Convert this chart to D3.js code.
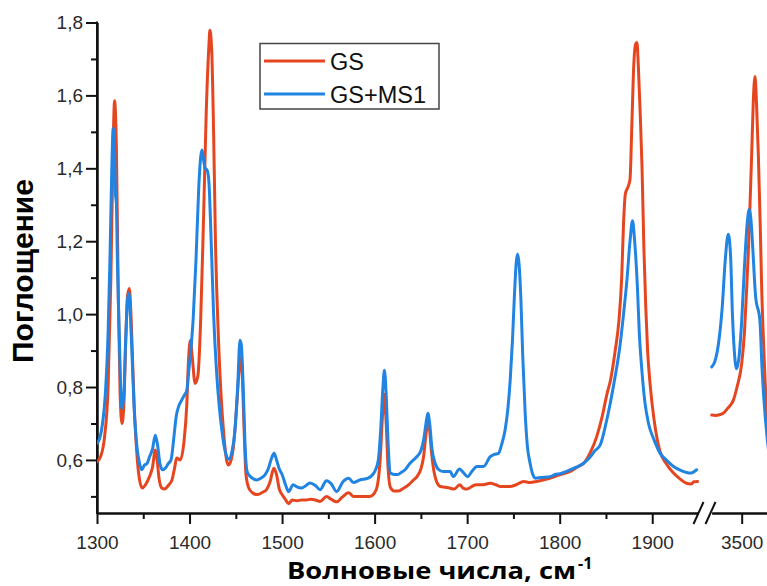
<!DOCTYPE html>
<html>
<head>
<meta charset="utf-8">
<script src="https://cdn.jsdelivr.net/npm/d3@7"></script>
<style>
  html, body { margin: 0; padding: 0; background: #ffffff; }
  svg { display: block; }
</style>
</head>
<body>
<svg id="chart" width="767" height="586"></svg>
<script>
// ---- Spectra: low-wavenumber window (1300–1950 cm-1) ----
const gsWave = [1300,1304,1308,1312,1315,1317,1319,1321,1323,1325,1327,1329,1331,1333,1335,1337,1340,1343,1346,1349,1352,1356,1360,1363,1365,1367,1370,1373,1377,1381,1384,1386,1390,1394,1397,1399,1401,1403,1406,1409,1412,1415,1418,1421,1422,1424,1426,1428,1431,1434,1437,1440,1442,1445,1448,1451,1454,1455.5,1457,1459,1461,1464,1468,1473,1478,1483,1487,1491,1494,1497,1500,1504,1507,1511,1516,1521,1526,1531,1536,1541,1548,1553,1559,1565,1572,1577,1585,1595,1600,1603,1606,1608.5,1610.5,1612.5,1614.5,1617,1621,1626,1631,1637,1642,1646,1650,1653,1655.5,1657.5,1659.5,1661.5,1664,1667,1671,1676,1681,1686,1692,1696,1700,1705,1710,1717,1725,1731,1736,1746,1753,1761,1768,1775,1782,1790,1800,1811,1820,1826,1833,1840,1846,1851,1855,1860,1864,1867,1869,1871,1874,1876,1878,1880,1882,1883.5,1885,1887,1889,1891,1893,1895,1898,1902,1908,1915,1923,1930,1937,1942,1945,1949];
const gsAbs = [0.595,0.61,0.66,0.80,1.10,1.40,1.585,1.45,1.05,0.78,0.70,0.75,0.92,1.05,1.07,0.98,0.76,0.62,0.545,0.523,0.53,0.55,0.58,0.627,0.60,0.55,0.523,0.52,0.53,0.545,0.58,0.605,0.60,0.65,0.75,0.88,0.928,0.88,0.81,0.83,0.98,1.25,1.55,1.74,1.779,1.72,1.50,1.20,0.95,0.78,0.67,0.60,0.586,0.60,0.65,0.75,0.86,0.88,0.83,0.68,0.56,0.523,0.51,0.505,0.51,0.518,0.54,0.577,0.56,0.52,0.505,0.49,0.48,0.49,0.488,0.49,0.49,0.492,0.49,0.486,0.50,0.492,0.485,0.498,0.51,0.50,0.50,0.50,0.51,0.53,0.60,0.72,0.78,0.70,0.58,0.525,0.515,0.515,0.522,0.532,0.545,0.555,0.575,0.61,0.67,0.705,0.68,0.62,0.57,0.54,0.527,0.525,0.523,0.52,0.532,0.522,0.52,0.527,0.532,0.532,0.536,0.532,0.527,0.527,0.532,0.541,0.538,0.541,0.545,0.55,0.559,0.568,0.582,0.591,0.62,0.664,0.72,0.78,0.82,0.90,0.982,1.10,1.25,1.33,1.35,1.37,1.52,1.68,1.74,1.745,1.68,1.55,1.40,1.18,1.02,0.90,0.80,0.71,0.627,0.59,0.564,0.548,0.536,0.534,0.54,0.541];

const msWave = [1300,1303,1306,1309,1312,1314,1316,1317.5,1319,1320,1321,1322,1324,1326,1327,1329,1331,1333,1334.5,1336,1338,1340,1343,1346,1348.5,1351,1354,1357,1360,1363,1365.5,1368,1371,1374,1377,1380,1383,1385.5,1388,1391.5,1395,1397,1399,1401,1404,1407,1410,1412,1413.5,1415,1417,1419,1421,1423,1426,1429,1432,1435,1438,1441,1443,1446,1449,1452,1454.5,1456,1458,1460,1462,1464,1468,1472.5,1477,1481.5,1485,1488,1491.4,1494,1497,1500,1504,1507,1512,1516,1521,1526,1530,1536,1541,1548,1553,1559,1566,1572,1577,1584,1593,1598,1601,1604,1606.5,1609,1610.6,1612.5,1614.5,1617,1621,1625,1629,1633,1638,1642,1646,1650,1653,1655.5,1657.5,1659.5,1662,1665.4,1670,1674.4,1681.6,1685,1691.7,1696,1700.4,1705,1710.5,1717.7,1724.9,1729,1733.9,1737,1741,1744,1746.5,1749,1751,1753,1754.4,1756,1758,1760,1762.7,1765,1768,1771,1773.5,1780,1789.7,1795,1800.5,1806,1811,1818,1825.8,1832,1838,1843.8,1850,1854.6,1860,1865,1869,1872.6,1876,1878.7,1881,1884,1886,1888.8,1892,1896,1902,1908.6,1915,1923,1932,1941,1944,1948];
const msAbs = [0.646,0.66,0.70,0.78,0.95,1.15,1.40,1.51,1.45,1.33,1.30,1.15,0.95,0.77,0.742,0.78,0.93,1.04,1.058,1.00,0.88,0.75,0.64,0.59,0.573,0.585,0.59,0.61,0.63,0.668,0.64,0.59,0.573,0.578,0.59,0.60,0.66,0.718,0.745,0.764,0.78,0.79,0.84,0.89,0.99,1.15,1.35,1.43,1.45,1.425,1.40,1.395,1.36,1.23,1.00,0.85,0.75,0.68,0.63,0.605,0.602,0.625,0.68,0.80,0.928,0.915,0.80,0.64,0.57,0.559,0.55,0.545,0.55,0.559,0.575,0.60,0.618,0.60,0.575,0.56,0.53,0.513,0.532,0.526,0.523,0.53,0.537,0.53,0.518,0.543,0.535,0.513,0.541,0.55,0.538,0.545,0.55,0.56,0.573,0.60,0.68,0.80,0.846,0.78,0.65,0.564,0.56,0.56,0.566,0.573,0.59,0.60,0.61,0.625,0.655,0.70,0.728,0.70,0.63,0.591,0.572,0.568,0.568,0.554,0.575,0.565,0.554,0.568,0.582,0.582,0.609,0.615,0.618,0.64,0.682,0.74,0.818,0.93,1.046,1.14,1.165,1.14,1.046,0.89,0.728,0.64,0.591,0.56,0.55,0.552,0.554,0.56,0.562,0.567,0.573,0.58,0.591,0.605,0.625,0.641,0.70,0.755,0.83,0.91,1.00,1.092,1.20,1.256,1.20,1.073,0.95,0.846,0.76,0.70,0.655,0.618,0.60,0.582,0.57,0.564,0.566,0.573];

// ---- Spectra: O–H stretching window (from 3468 cm-1) ----
const gsWaveHigh = [3467.6,3472,3476,3480,3485,3491,3495,3500,3503,3505,3507.1,3509,3510.8,3512.5,3514.4,3516,3518,3520,3521.6,3524,3527.4,3531,3536];
const gsAbsHigh  = [0.723,0.722,0.724,0.728,0.742,0.764,0.80,0.864,0.95,1.05,1.165,1.30,1.438,1.58,1.652,1.58,1.438,1.25,1.073,0.90,0.71,0.60,0.55];
const msWaveHigh = [3467.6,3471,3475,3479,3482,3485.5,3488,3490,3492,3494.6,3497,3500,3503,3506,3508.2,3510,3512,3515,3519.7,3522,3527.4,3532,3540];
const msAbsHigh  = [0.855,0.87,0.92,1.02,1.14,1.219,1.16,1.00,0.90,0.85,0.88,0.98,1.13,1.25,1.288,1.26,1.18,1.05,0.982,0.85,0.664,0.58,0.54];

// ---- Axis ticks and labels ----
const xTicksLow = [1300,1400,1500,1600,1700,1800,1900];
const xMinorLow = [1350,1450,1550,1650,1750,1850];
const xTicksHigh = [3500];
const xMinorHigh = [3550];
const yTicks = [0.6,0.8,1.0,1.2,1.4,1.6,1.8];
const yMinor = [0.5,0.7,0.9,1.1,1.3,1.5,1.7];
const seriesNames = ["GS", "GS+MS1"];
const seriesColors = ["#e5461f", "#2184e2"];
const yTitle = "Поглощение";
const xTitle = "Волновые числа, см";

const svg = d3.select("#chart");
const axisY = 513;
const plotTop = 22.5;

const xLow = d3.scaleLinear().domain([1300, 1950]).range([97, 698.5]);
const xHigh = d3.scaleLinear().domain([3467.6, 3560]).range([711.7, 797.2]);
const y = d3.scaleLinear().domain([0.4544, 1.8]).range([axisY, plotTop]);

const fmtComma = d => d3.format(".1f")(d).replace(".", ",");

// Clip regions for each window of the broken axis
const defs = svg.append("defs");
defs.append("clipPath").attr("id", "clipLow").append("rect")
  .attr("x", 97).attr("y", 0).attr("width", 698.5 - 97 + 2).attr("height", axisY);
defs.append("clipPath").attr("id", "clipHigh").append("rect")
  .attr("x", 710).attr("y", 0).attr("width", 100).attr("height", axisY);

// ---- Axes ----
const tickFont = "'Liberation Sans', Arial, sans-serif";

function styleAxis(g) {
  g.selectAll("path.domain").attr("stroke", "#111").attr("stroke-width", 2);
  g.selectAll(".tick line").attr("stroke", "#111").attr("stroke-width", 2);
  g.selectAll(".tick text").attr("fill", "#2a2a2a")
    .style("font-family", tickFont).style("font-size", "19px");
}

// lower window x axis
svg.append("g").attr("transform", `translate(0,${axisY})`)
  .call(d3.axisBottom(xLow).tickValues(xMinorLow).tickSize(6).tickSizeOuter(0).tickFormat(""))
  .call(styleAxis);
svg.append("g").attr("transform", `translate(0,${axisY})`)
  .call(d3.axisBottom(xLow).tickValues(xTicksLow).tickSize(11).tickSizeOuter(0).tickPadding(12).tickFormat(d3.format("d")))
  .call(styleAxis);

// upper window x axis
svg.append("g").attr("transform", `translate(0,${axisY})`)
  .call(d3.axisBottom(xHigh).tickValues(xMinorHigh).tickSize(6).tickSizeOuter(0).tickFormat(""))
  .call(styleAxis);
svg.append("g").attr("transform", `translate(0,${axisY})`)
  .call(d3.axisBottom(xHigh).tickValues(xTicksHigh).tickSize(11).tickSizeOuter(0).tickPadding(12).tickFormat(d3.format("d")))
  .call(styleAxis);

// axis break marks
const breakG = svg.append("g").attr("stroke", "#111").attr("stroke-width", 2);
[698.5, 710.5].forEach(cx => {
  breakG.append("line")
    .attr("x1", cx - 5).attr("y1", axisY + 11)
    .attr("x2", cx + 5).attr("y2", axisY - 11);
});

// y axis
svg.append("g").attr("transform", "translate(97,0)")
  .call(d3.axisLeft(y).tickValues(yMinor).tickSize(6).tickSizeOuter(0).tickFormat(""))
  .call(styleAxis);
svg.append("g").attr("transform", "translate(97,0)")
  .call(d3.axisLeft(y).tickValues(yTicks).tickSize(11).tickSizeOuter(0).tickPadding(3).tickFormat(fmtComma))
  .call(styleAxis);
// y axis line limited to the drawn range
svg.append("line").attr("x1", 97).attr("x2", 97)
  .attr("y1", y(1.8) - 1).attr("y2", axisY + 1)
  .attr("stroke", "#111").attr("stroke-width", 2);

// ---- Curves ----
const lineLow = d3.line().x(d => xLow(d[0])).y(d => y(d[1])).curve(d3.curveMonotoneX);
const lineHigh = d3.line().x(d => xHigh(d[0])).y(d => y(d[1])).curve(d3.curveMonotoneX);

const lowSeries = [d3.zip(gsWave, gsAbs), d3.zip(msWave, msAbs)];
const highSeries = [d3.zip(gsWaveHigh, gsAbsHigh), d3.zip(msWaveHigh, msAbsHigh)];

const gLow = svg.append("g").attr("clip-path", "url(#clipLow)");
const gHigh = svg.append("g").attr("clip-path", "url(#clipHigh)");
[0, 1].forEach(i => {
  gLow.append("path").datum(lowSeries[i])
    .attr("d", lineLow).attr("fill", "none")
    .attr("stroke", seriesColors[i]).attr("stroke-width", 3)
    .attr("stroke-linejoin", "round").attr("stroke-linecap", "round");
  gHigh.append("path").datum(highSeries[i])
    .attr("d", lineHigh).attr("fill", "none")
    .attr("stroke", seriesColors[i]).attr("stroke-width", 3)
    .attr("stroke-linejoin", "round").attr("stroke-linecap", "round");
});

// ---- Legend ----
const legend = svg.append("g");
legend.append("rect").attr("x", 260).attr("y", 43.5).attr("width", 179).attr("height", 65.5)
  .attr("fill", "#fff").attr("stroke", "#444").attr("stroke-width", 1.5);
seriesNames.forEach((name, i) => {
  const ly = 61 + i * 33;
  legend.append("line").attr("x1", 264).attr("x2", 325).attr("y1", ly).attr("y2", ly)
    .attr("stroke", seriesColors[i]).attr("stroke-width", 3);
  legend.append("text").attr("x", 330).attr("y", ly + 8.5)
    .style("font-family", tickFont).style("font-size", "23.5px").attr("fill", "#111")
    .text(name);
});

// ---- Axis titles ----
svg.append("text")
  .attr("transform", "translate(33,271) rotate(-90)")
  .attr("text-anchor", "middle")
  .style("font-family", "'Liberation Sans', Arial, sans-serif")
  .style("font-weight", "bold").style("font-size", "30px").attr("fill", "#000")
  .text(yTitle);

const xt = svg.append("text")
  .attr("x", 287).attr("y", 579)
  .style("font-family", "'Open Sans', Lato, sans-serif")
  .style("font-weight", "bold").style("font-size", "23px").attr("fill", "#000");
xt.append("tspan").attr("textLength", 289).attr("lengthAdjust", "spacingAndGlyphs").text(xTitle);
xt.append("tspan").attr("dx", 2).attr("dy", -10).style("font-size", "16px").text("-1");
</script>
</body>
</html>
